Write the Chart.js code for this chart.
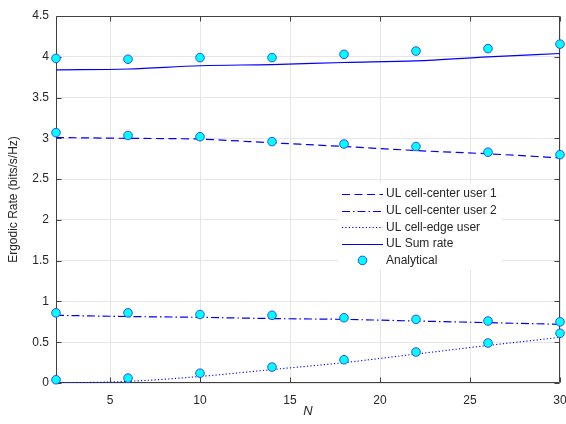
<!DOCTYPE html>
<html><head><meta charset="utf-8">
<script src="https://cdn.jsdelivr.net/npm/chart.js@4.4.1/dist/chart.umd.min.js"></script>
<style>html,body{margin:0;padding:0;background:#fff;}#wrap{width:566px;height:424px;}</style>
</head><body><div id="wrap"><canvas id="c" width="566" height="424"></canvas></div>
<script>
// ---- data ----
const N = [2, 6, 10, 14, 18, 22, 26, 30];
const user1Sim = [3.01, 3.00, 2.99, 2.945, 2.90, 2.85, 2.81, 2.76];
const user2Sim = [0.83, 0.815, 0.805, 0.79, 0.78, 0.76, 0.74, 0.72];
const edgeSim  = [0.00, 0.02, 0.08, 0.165, 0.25, 0.355, 0.46, 0.56];
const sumSim   = [3.84, 3.85, 3.89, 3.905, 3.93, 3.95, 4.00, 4.04];
const user1Ana = [3.07, 3.035, 3.02, 2.96, 2.93, 2.90, 2.83, 2.80];
const user2Ana = [0.86, 0.86, 0.84, 0.83, 0.80, 0.78, 0.76, 0.75];
const edgeAna  = [0.04, 0.06, 0.12, 0.195, 0.285, 0.38, 0.49, 0.61];
const sumAna   = [3.98, 3.97, 3.99, 3.99, 4.03, 4.07, 4.10, 4.155];
const xTicks = [5, 10, 15, 20, 25, 30];
const yTicks = [0, 0.5, 1, 1.5, 2, 2.5, 3, 3.5, 4, 4.5];
const seriesLabels = ['UL cell-center user 1', 'UL cell-center user 2', 'UL cell-edge user', 'UL Sum rate', 'Analytical'];
const xTitle = 'N';
const yTitle = 'Ergodic Rate (bits/s/Hz)';

const FONT = "'Liberation Sans', Arial, Helvetica, sans-serif";
const TXT = '#262626';
const pts = arr => N.map((n, i) => ({x: n, y: arr[i]}));

const lineDs = (label, arr, dash, width) => ({
  label, data: pts(arr), borderColor: '#0000ff', backgroundColor: '#0000ff',
  borderWidth: width, borderDash: dash, pointRadius: 0, pointHoverRadius: 0,
  fill: false, cubicInterpolationMode: 'monotone', order: 2
});

const datasets = [
  lineDs(seriesLabels[0], user1Sim, [8, 4.5], 1.2),
  lineDs(seriesLabels[1], user2Sim, [8, 3, 1.5, 3], 1.2),
  lineDs(seriesLabels[2], edgeSim, [1.2, 2.2], 1.1),
  lineDs(seriesLabels[3], sumSim, [], 1.2),
  {
    label: seriesLabels[4],
    data: [].concat(pts(user1Ana), pts(user2Ana), pts(edgeAna), pts(sumAna)),
    showLine: false, pointRadius: 4.3, pointHoverRadius: 4.3,
    pointBackgroundColor: '#00ffff', pointBorderColor: '#2a4dff', pointBorderWidth: 1,
    borderColor: '#2a4dff', backgroundColor: '#00ffff', clip: false, order: 0
  }
];

const boxPlugin = {
  id: 'mbox',
  beforeDatasetsDraw(chart) {
    const {ctx, chartArea: a, scales: {x, y}} = chart;
    ctx.save();
    ctx.strokeStyle = '#404040';
    ctx.lineWidth = 1;
    const L = Math.round(a.left) + 0.5, R = Math.round(a.right) - 0.5;
    const T = Math.round(a.top) + 0.5, B = Math.round(a.bottom) - 0.5;
    ctx.beginPath();
    ctx.rect(L, T, R - L, B - T);
    const tl = 5;
    xTicks.forEach(v => {
      const px = Math.round(x.getPixelForValue(v)) + 0.5;
      ctx.moveTo(px, B); ctx.lineTo(px, B - tl);
      ctx.moveTo(px, T); ctx.lineTo(px, T + tl);
    });
    yTicks.forEach(v => {
      const py = Math.round(y.getPixelForValue(v)) + 0.5;
      ctx.moveTo(L, py); ctx.lineTo(L + tl, py);
      ctx.moveTo(R, py); ctx.lineTo(R - tl, py);
    });
    ctx.stroke();
    ctx.restore();
  }
};

const legendPlugin = {
  id: 'mlegend',
  afterDraw(chart) {
    const {ctx, chartArea: a} = chart;
    const left = a.right - 222, top = a.top + 167, w = 164, h = 87;
    ctx.save();
    ctx.fillStyle = '#ffffff';
    ctx.fillRect(left, top, w, h);
    ctx.font = '12px ' + FONT;
    ctx.textBaseline = 'middle';
    ctx.textAlign = 'left';
    chart.data.datasets.forEach((ds, i) => {
      const yy = top + 11 + i * 16.6;
      const x0 = left + 4, x1 = left + 45;
      if (ds.showLine === false) {
        ctx.beginPath();
        ctx.arc((x0 + x1) / 2, yy, 4.3, 0, Math.PI * 2);
        ctx.fillStyle = ds.pointBackgroundColor; ctx.fill();
        ctx.strokeStyle = ds.pointBorderColor; ctx.lineWidth = 1; ctx.setLineDash([]); ctx.stroke();
      } else {
        ctx.beginPath();
        ctx.strokeStyle = ds.borderColor; ctx.lineWidth = ds.borderWidth;
        ctx.setLineDash(ds.borderDash || []);
        ctx.moveTo(x0, Math.round(yy) + 0.5); ctx.lineTo(x1, Math.round(yy) + 0.5);
        ctx.stroke();
        ctx.setLineDash([]);
      }
      ctx.fillStyle = TXT;
      ctx.fillText(ds.label, left + 48, yy);
    });
    ctx.restore();
  }
};

new Chart(document.getElementById('c'), {
  type: 'line',
  data: {datasets},
  plugins: [boxPlugin, legendPlugin],
  options: {
    responsive: false, animation: false, devicePixelRatio: 1,
    layout: {padding: {top: 16, right: 6, left: 0, bottom: 0}},
    plugins: {legend: {display: false}, tooltip: {enabled: false}},
    scales: {
      x: {
        type: 'linear', min: 2, max: 30,
        afterBuildTicks: s => { s.ticks = xTicks.map(v => ({value: v})); },
        afterFit: s => { s.height = 41; s.paddingLeft = 0; s.paddingRight = 0; },
        grid: {color: '#e6e6e6', lineWidth: 1, drawTicks: false},
        border: {display: false},
        ticks: {padding: 10, color: TXT, font: {family: FONT, size: 12}, maxRotation: 0, autoSkip: false,
                callback: v => String(v)},
        title: {display: true, text: xTitle, color: TXT, padding: {top: 0, bottom: 5},
                font: {family: FONT, size: 13, style: 'italic'}}
      },
      y: {
        type: 'linear', min: 0, max: 4.5,
        afterBuildTicks: s => { s.ticks = yTicks.map(v => ({value: v})); },
        afterFit: s => { s.width = 56; s.paddingTop = 0; s.paddingBottom = 0; },
        grid: {color: '#e6e6e6', lineWidth: 1, drawTicks: false},
        border: {display: false},
        ticks: {padding: 7, color: TXT, font: {family: FONT, size: 12}, autoSkip: false,
                callback: v => String(v)},
        title: {display: true, text: yTitle, color: TXT, padding: {top: 6, bottom: 0},
                font: {family: FONT, size: 12}}
      }
    }
  }
});
</script>
</body></html>
